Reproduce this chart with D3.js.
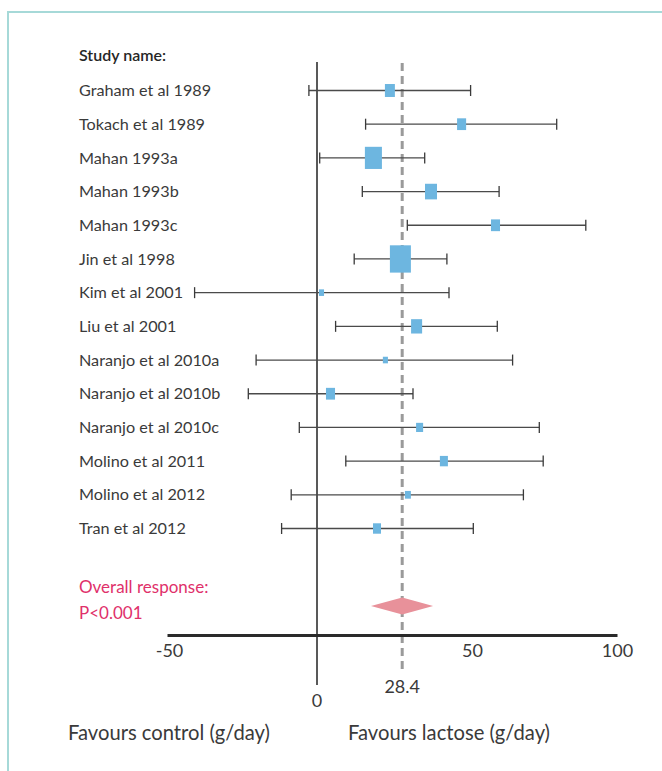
<!DOCTYPE html>
<html>
<head>
<meta charset="utf-8">
<script src="https://cdn.jsdelivr.net/npm/d3@7"></script>
<style>
  html, body { margin: 0; padding: 0; background: #fff; }
  svg { display: block; }
  text { font-family: Lato, "Open Sans", sans-serif; fill: #3a3a3a; }
</style>
</head>
<body>
<svg id="chart" width="662" height="771"></svg>
<script>
// ---- data ----
const studies = ["Graham et al 1989", "Tokach et al 1989", "Mahan 1993a", "Mahan 1993b", "Mahan 1993c",
  "Jin et al 1998", "Kim et al 2001", "Liu et al 2001", "Naranjo et al 2010a", "Naranjo et al 2010b",
  "Naranjo et al 2010c", "Molino et al 2011", "Molino et al 2012", "Tran et al 2012"];
const effects = [24.3, 48.2, 18.8, 38.0, 59.5, 27.8, 1.5, 33.2, 22.8, 4.5, 34.2, 42.3, 30.3, 20.0];
const lower   = [-2.7, 16.2, 0.9, 15.1, 30.1, 12.4, -40.8, 6.2, -20.3, -22.9, -5.9, 9.6, -8.6, -11.8];
const upper   = [51.2, 79.9, 35.9, 60.7, 89.6, 43.3, 44.0, 60.1, 65.2, 32.0, 74.1, 75.4, 68.8, 52.1];
const weights = [6.2, 5.1, 18.1, 9.0, 5.1, 27.5, 1.6, 7.6, 1.6, 5.1, 3.1, 4.0, 2.2, 4.0];
const overall = { estimate: 28.4, lower: 18.0, upper: 38.7, label: "Overall response:", p: "P<0.001" };
const tickValues = [-50, 50, 100];
const leftLabel = "Favours control (g/day)";
const rightLabel = "Favours lactose (g/day)";

// ---- chart ----
const svg = d3.select("#chart");

// frame
svg.append("path")
  .attr("d", "M8,771 V12 H662")
  .attr("fill", "none")
  .attr("stroke", "#a6d9d8")
  .attr("stroke-width", 2);

const x = d3.scaleLinear().domain([-50, 100]).range([167, 617]);
const y = d3.scalePoint().domain(studies).range([90.5, 528.5]);
const size = d3.scaleSqrt().domain([0, d3.max(weights)]).range([0, 21]);

const rows = studies.map((s, i) => ({ name: s, est: effects[i], lo: lower[i], hi: upper[i], w: weights[i] }));

// header
svg.append("text").attr("x", 79).attr("y", 55).attr("dy", "0.35em")
  .attr("font-size", 16).attr("font-weight", 600).style("fill", "#262626")
  .text("Study name:");

// study labels
svg.append("g").selectAll("text").data(rows).join("text")
  .attr("x", 79).attr("y", d => y(d.name)).attr("dy", "0.35em")
  .attr("font-size", 16.2)
  .text(d => d.name);

// zero line
svg.append("line")
  .attr("x1", x(0)).attr("x2", x(0)).attr("y1", 62).attr("y2", 685)
  .attr("stroke", "#222").attr("stroke-width", 1.5);

// overall dashed line
svg.append("line")
  .attr("x1", x(overall.estimate)).attr("x2", x(overall.estimate)).attr("y1", 63).attr("y2", 671)
  .attr("stroke", "#9a9a9a").attr("stroke-width", 3).attr("stroke-dasharray", "8,5");

// error bars
const g = svg.append("g");
g.selectAll("line.ci").data(rows).join("line").attr("class", "ci")
  .attr("x1", d => x(d.lo)).attr("x2", d => x(d.hi))
  .attr("y1", d => y(d.name)).attr("y2", d => y(d.name))
  .attr("stroke", "#4a4a4a").attr("stroke-width", 1.3);
["lo", "hi"].forEach(k => {
  g.selectAll("line.cap-" + k).data(rows).join("line").attr("class", "cap-" + k)
    .attr("x1", d => x(d[k])).attr("x2", d => x(d[k]))
    .attr("y1", d => y(d.name) - 5.5).attr("y2", d => y(d.name) + 5.5)
    .attr("stroke", "#3a3a3a").attr("stroke-width", 1.3);
});

// boxes
g.selectAll("rect").data(rows).join("rect")
  .attr("x", d => x(d.est) - size(d.w) / 2)
  .attr("y", d => y(d.name) - size(d.w) * 1.3 / 2)
  .attr("width", d => size(d.w))
  .attr("height", d => size(d.w) * 1.3)
  .attr("fill", "#6db6e0");

// overall diamond
const dy = 606, dh = 8.5;
svg.append("path")
  .attr("d", `M${x(overall.lower)},${dy} L${x(overall.estimate)},${dy - dh} L${x(overall.upper)},${dy} L${x(overall.estimate)},${dy + dh} Z`)
  .attr("fill", "#e8919a");

svg.append("text").attr("x", 79).attr("y", 587).attr("dy", "0.35em").attr("font-size", 17)
  .style("fill", "#e0306a").text(overall.label);
svg.append("text").attr("x", 79).attr("y", 613).attr("dy", "0.35em").attr("font-size", 17)
  .style("fill", "#e0306a").text(overall.p);

// axis
const axis = d3.axisBottom(x).tickValues(tickValues).tickSize(0).tickPadding(9)
  .tickFormat(d => d < 0 ? "-" + Math.abs(d) : String(d));
const ax = svg.append("g").attr("transform", "translate(0,635)").call(axis);
ax.select(".domain").attr("stroke", "#2a2a2a").attr("stroke-width", 3);
ax.selectAll(".tick text")
  .attr("font-size", 18)
  .attr("font-family", "Lato, 'Open Sans', sans-serif")
  .attr("dx", d => d === 50 ? 5 : (d < 0 ? 2 : 0))
  .style("fill", "#3a3a3a");

// zero and overall labels
svg.append("text").attr("x", x(0)).attr("y", 701).attr("dy", "0.35em")
  .attr("text-anchor", "middle").attr("font-size", 18).text(d3.format("d")(0));
svg.append("text").attr("x", x(overall.estimate)).attr("y", 687).attr("dy", "0.35em")
  .attr("text-anchor", "middle").attr("font-size", 18).text(overall.estimate);

// bottom labels
svg.append("text").attr("x", 68).attr("y", 733).attr("dy", "0.35em")
  .attr("font-size", 20.2).text(leftLabel);
svg.append("text").attr("x", 348).attr("y", 733).attr("dy", "0.35em")
  .attr("font-size", 20.2).text(rightLabel);
</script>
</body>
</html>
